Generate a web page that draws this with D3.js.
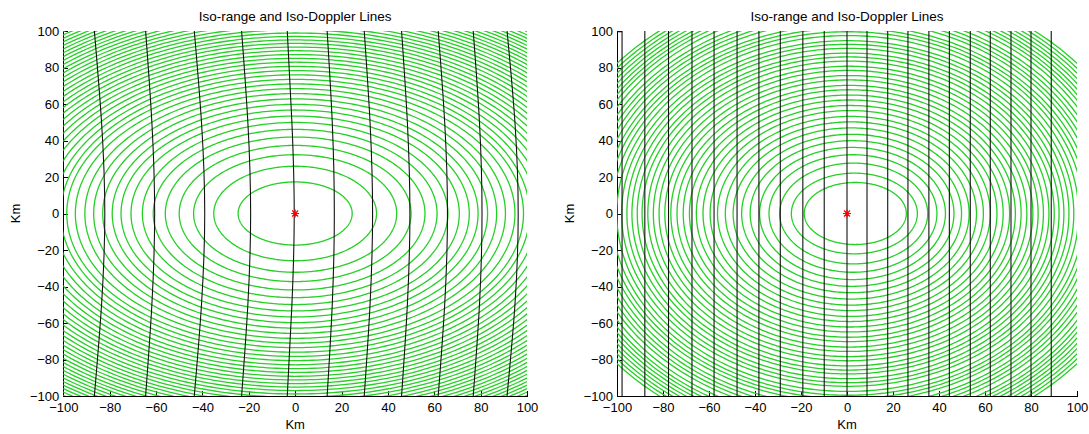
<!DOCTYPE html>
<html lang="en">
<head>
<meta charset="UTF-8">
<script src="https://d3js.org/d3.v7.min.js"></script>
<title>Iso-range and Iso-Doppler Lines</title>
<style>
    body { margin: 0; background: #fff; }
    text { font-family: "Liberation Sans", Arial, Helvetica, sans-serif; fill: #000; }
    .axis path, .axis line { stroke: #000; stroke-width: 1; shape-rendering: crispEdges; }
    .axis text { font-size: 13px; }
</style>
</head>
<body>
<svg id="chart" width="1089" height="434"></svg>
<script>
    // tick values, both axes, both panels
    const tickValues = [-100, -80, -60, -40, -20, 0, 20, 40, 60, 80, 100];

    // left panel: iso-range ellipses (semi-axes in km)
    const rangeA1 = [24.6, 35.1, 43.8, 50.0, 56.0, 61.2, 65.9, 70.8, 75.1, 78.9, 83.0, 86.9, 90.7, 94.8, 98.5,
        101.1, 104.2, 107.2, 110.2, 113.1, 115.9, 118.6, 121.3, 123.9, 126.4, 128.9, 131.4, 133.8, 136.2, 138.5,
        140.8, 143.1, 145.3, 147.5, 149.7, 151.8, 153.9, 155.9, 158.0, 160.0, 162.0, 164.0, 165.9, 167.8];
    const rangeB1 = [17.3, 25.9, 32.2, 37.3, 41.9, 46.1, 49.9, 53.4, 56.7, 59.8, 62.8, 65.7, 68.4, 71.0, 73.5,
        76.0, 78.3, 80.6, 82.9, 85.0, 87.1, 89.2, 91.2, 93.2, 95.1, 97.0, 98.9, 100.7, 102.5, 104.3,
        106.0, 107.7, 109.4, 111.1, 112.7, 114.3, 115.9, 117.5, 119.0, 120.5, 122.0, 123.5, 125.0, 126.4];

    // left panel: iso-Doppler lines, x (km) at y = +-100, +-50 and 0
    const dopEdge1 = [-86.6, -64.5, -43.5, -23.1, -3.4, 13.8, 29.8, 45.9, 61.7, 76.8, 91.4];
    const dopHalf1 = [-83.5, -61.8, -40.4, -20.4, -1.4, 16.0, 32.3, 48.4, 64.5, 79.5, 94.8];
    const dopMid1  = [-82.1, -60.6, -39.0, -19.2, -0.4, 16.9, 33.4, 49.5, 65.7, 80.6, 96.2];

    // right panel: iso-range ellipses (km); inner rings sit a little right of the target
    const rangeA2 = [22.2, 27.4, 32.2, 36.5, 40.4, 44.3, 47.8, 51.3, 54.6, 57.8, 60.9, 63.9, 66.7, 69.6, 72.2,
        74.8, 77.4, 80.0, 82.4, 84.8, 87.2, 89.6, 91.7, 93.9, 96.1, 98.3, 100.4, 102.6, 104.6, 106.5,
        108.5, 110.4, 112.4, 114.3, 116.3, 118.3, 120.0, 121.7, 123.5, 125.2, 127.0, 128.7, 130.4];
    const rangeB2 = [17.0, 22.1, 27.6, 32.2, 36.2, 39.9, 43.4, 46.9, 50.2, 53.2, 56.4, 59.2, 62.2, 64.9, 67.8,
        70.2, 73.2, 75.6, 78.4, 80.7, 83.5, 85.8, 87.9, 90.5, 92.7, 94.7, 97.5, 99.6, 101.5, 103.4,
        106.0, 107.9, 109.8, 111.7, 114.4, 116.3, 118.0, 119.7, 121.4, 123.1, 124.8, 126.5, 128.2];
    const rangeC2 = [3.6, 3.2, 2.9, 2.6, 2.4, 2.2, 2.0, 1.8, 1.7, 1.5, 1.4, 1.3, 1.2, 1.1, 1.0,
        0.9, 0.8, 0.8, 0.7, 0.6, 0.6, 0.5, 0.5, 0.4, 0.4, 0.3, 0.3, 0.3, 0.2, 0.2,
        0.2, 0.1, 0.1, 0.1, 0.1, 0, 0, 0, 0, 0, 0, 0, 0];

    // right panel: iso-Doppler lines (km), almost straight
    const dopMid2 = [-97.8, -87.9, -77.6, -67.4, -57.8, -47.8, -38.3, -29.0, -19.2, -9.9, 0,
        8.7, 17.7, 26.5, 35.6, 44.5, 53.6, 62.3, 71.3, 80.0, 88.8];

    // target position
    const targetX = [0];
    const targetY = [0];

    const svg = d3.select('svg#chart');
    svg.append('rect').attr('width', 1089).attr('height', 434).attr('fill', '#fff');

    const panels = [
        { id: 'p1', x0: 63.3, x1: 527, rangeA: rangeA1, rangeB: rangeB1, rangeC: rangeA1.map(() => 0),
          dopplers: dopMid1.map((m, i) => [dopEdge1[i], dopHalf1[i], m, dopHalf1[i], dopEdge1[i]]) },
        { id: 'p2', x0: 617, x1: 1077, rangeA: rangeA2, rangeB: rangeB2, rangeC: rangeC2,
          dopplers: dopMid2.map(m => [m, m, m, m, m]), loop: true }
    ];
    const y0 = 31, y1 = 396;
    const yKnots = [100, 50, 0, -50, -100];
    const angles = d3.range(0, 361, 1).map(d => d * Math.PI / 180);

    panels.forEach(p => {
        const xScale = d3.scaleLinear().domain([-100, 100]).range([p.x0, p.x1]);
        const yScale = d3.scaleLinear().domain([-100, 100]).range([y1, y0]);
        const g = svg.append('g');

        // clip to the plot box
        g.append('clipPath').attr('id', 'clip-' + p.id)
            .append('rect')
            .attr('x', p.x0).attr('y', y0)
            .attr('width', p.x1 - p.x0).attr('height', y1 - y0);

        // axes first (MATLAB draws data over the axes)
        const leftAxis = d3.axisLeft(yScale).tickValues(tickValues)
            .tickSizeInner(-5).tickSizeOuter(0).tickPadding(4);
        g.append('g').attr('class', 'axis')
            .attr('transform', `translate(${p.x0},0)`)
            .call(leftAxis);

        const bottomAxis = d3.axisBottom(xScale).tickValues(tickValues)
            .tickSizeInner(-5).tickSizeOuter(0).tickPadding(7);
        g.append('g').attr('class', 'axis')
            .attr('transform', `translate(0,${y1})`)
            .call(bottomAxis);

        const plot = g.append('g').attr('clip-path', `url(#clip-${p.id})`);

        // iso-range lines
        plot.selectAll('path.range')
            .data(p.rangeA.map((a, i) => ({ a: a, b: p.rangeB[i], c: p.rangeC[i] })))
            .enter()
            .append('path')
            .attr('class', 'range')
            .attr('d', d => d3.line()(angles.map(t => [xScale(d.c + d.a * Math.cos(t)), yScale(d.b * Math.sin(t))])))
            .attr('fill', 'none')
            .attr('stroke', '#26d026')
            .attr('stroke-width', 1.3);

        // iso-Doppler lines
        const dopLine = d3.line()
            .x(d => xScale(d[0]))
            .y(d => yScale(d[1]))
            .curve(d3.curveNatural);
        plot.selectAll('path.doppler')
            .data(p.dopplers)
            .enter()
            .append('path')
            .attr('class', 'doppler')
            .attr('d', d => dopLine(d.map((x, i) => [x, yKnots[i]])))
            .attr('fill', 'none')
            .attr('stroke', '#111')
            .attr('stroke-width', 1.1);

        // the outermost Doppler contour closes along the top edge
        if (p.loop) {
            plot.append('path')
                .attr('d', d3.line()([[xScale(-100), yScale(99.6)], [xScale(p.dopplers[0][0]), yScale(99.6)]]))
                .attr('stroke', '#111')
                .attr('stroke-width', 1.1);
        }

        // target marker (asterisk)
        const star = g.selectAll('g.star')
            .data(targetX.map((x, i) => [x, targetY[i]]))
            .enter()
            .append('g')
            .attr('transform', d => `translate(${xScale(d[0])},${yScale(d[1])})`);
        star.append('path')
            .attr('d', 'M-4,0H4M0,-4V4M-3,-3L3,3M-3,3L3,-3')
            .attr('stroke', '#ff0000')
            .attr('stroke-width', 1.2);

        // title + labels
        const cx = (p.x0 + p.x1) / 2;
        g.append('text')
            .attr('x', cx).attr('y', 21)
            .attr('text-anchor', 'middle')
            .style('font-size', '13.5px')
            .text('Iso-range and Iso-Doppler Lines');

        g.append('text')
            .attr('x', cx).attr('y', 429)
            .attr('text-anchor', 'middle')
            .style('font-size', '13px')
            .text('Km');

        g.append('text')
            .attr('transform', `translate(${p.x0 - 43.5},${(y0 + y1) / 2}) rotate(-90)`)
            .attr('text-anchor', 'middle')
            .style('font-size', '13px')
            .text('Km');
    });
</script>
</body>
</html>
